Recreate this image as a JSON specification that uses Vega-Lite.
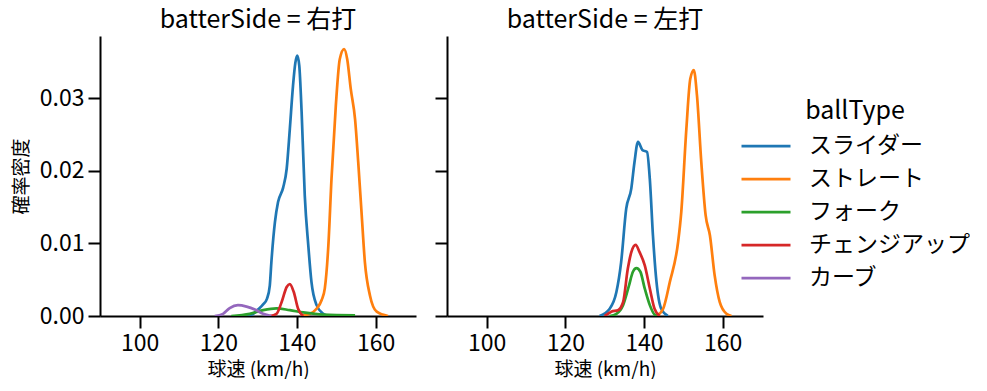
{
  "$schema": "https://vega.github.io/schema/vega-lite/v6.json",
  "autosize": {"type": "pad"},
  "padding": {"left": 12, "top": 8, "right": 0, "bottom": 0},
  "config": {
    "font": "Noto Sans CJK JP",
    "view": {"stroke": null},
    "axis": {"grid": false, "domainColor": "black", "domainWidth": 2, "tickColor": "black", "tickWidth": 2, "tickSize": 12, "labelFontSize": 23, "labelColor": "black", "titleFontSize": 19, "titleFontWeight": "normal", "titleColor": "black", "labelPadding": 4},
    "title": {"fontSize": 25, "fontWeight": "normal", "color": "black"}
  },
  "datasets": {
    "kde": [
      {"batterSide": "右打", "ballType": "スライダー", "speed": 127.2, "density": 0},
      {"batterSide": "右打", "ballType": "スライダー", "speed": 128.9, "density": 0.0003},
      {"batterSide": "右打", "ballType": "スライダー", "speed": 130.1, "density": 0.0009},
      {"batterSide": "右打", "ballType": "スライダー", "speed": 131.4, "density": 0.0016},
      {"batterSide": "右打", "ballType": "スライダー", "speed": 132.4, "density": 0.0024},
      {"batterSide": "右打", "ballType": "スライダー", "speed": 133.1, "density": 0.0042},
      {"batterSide": "右打", "ballType": "スライダー", "speed": 133.5, "density": 0.0074},
      {"batterSide": "右打", "ballType": "スライダー", "speed": 134.4, "density": 0.0129},
      {"batterSide": "右打", "ballType": "スライダー", "speed": 135.2, "density": 0.0157},
      {"batterSide": "右打", "ballType": "スライダー", "speed": 136.5, "density": 0.0177},
      {"batterSide": "右打", "ballType": "スライダー", "speed": 137.4, "density": 0.0203},
      {"batterSide": "右打", "ballType": "スライダー", "speed": 138.2, "density": 0.0258},
      {"batterSide": "右打", "ballType": "スライダー", "speed": 139.0, "density": 0.0317},
      {"batterSide": "右打", "ballType": "スライダー", "speed": 139.6, "density": 0.0349},
      {"batterSide": "右打", "ballType": "スライダー", "speed": 140.1, "density": 0.0359},
      {"batterSide": "右打", "ballType": "スライダー", "speed": 140.6, "density": 0.0345},
      {"batterSide": "右打", "ballType": "スライダー", "speed": 141.2, "density": 0.0281},
      {"batterSide": "右打", "ballType": "スライダー", "speed": 142.0, "density": 0.0166},
      {"batterSide": "右打", "ballType": "スライダー", "speed": 142.9, "density": 0.0097},
      {"batterSide": "右打", "ballType": "スライダー", "speed": 143.7, "density": 0.0047},
      {"batterSide": "右打", "ballType": "スライダー", "speed": 145.0, "density": 0.0015},
      {"batterSide": "右打", "ballType": "スライダー", "speed": 146.7, "density": 0.0003},
      {"batterSide": "右打", "ballType": "スライダー", "speed": 148.0, "density": 0},
      {"batterSide": "右打", "ballType": "ストレート", "speed": 141.6, "density": 0.0001},
      {"batterSide": "右打", "ballType": "ストレート", "speed": 143.3, "density": 0.0003},
      {"batterSide": "右打", "ballType": "ストレート", "speed": 145.0, "density": 0.001},
      {"batterSide": "右打", "ballType": "ストレート", "speed": 146.3, "density": 0.0022},
      {"batterSide": "右打", "ballType": "ストレート", "speed": 147.1, "density": 0.0038},
      {"batterSide": "右打", "ballType": "ストレート", "speed": 148.0, "density": 0.0097},
      {"batterSide": "右打", "ballType": "ストレート", "speed": 148.8, "density": 0.0189},
      {"batterSide": "右打", "ballType": "ストレート", "speed": 149.9, "density": 0.029},
      {"batterSide": "右打", "ballType": "ストレート", "speed": 150.9, "density": 0.0354},
      {"batterSide": "右打", "ballType": "ストレート", "speed": 152.0, "density": 0.0368},
      {"batterSide": "右打", "ballType": "ストレート", "speed": 152.8, "density": 0.0354},
      {"batterSide": "右打", "ballType": "ストレート", "speed": 153.7, "density": 0.0313},
      {"batterSide": "右打", "ballType": "ストレート", "speed": 154.8, "density": 0.0271},
      {"batterSide": "右打", "ballType": "ストレート", "speed": 155.6, "density": 0.0212},
      {"batterSide": "右打", "ballType": "ストレート", "speed": 156.5, "density": 0.0138},
      {"batterSide": "右打", "ballType": "ストレート", "speed": 157.3, "density": 0.0074},
      {"batterSide": "右打", "ballType": "ストレート", "speed": 158.6, "density": 0.0028},
      {"batterSide": "右打", "ballType": "ストレート", "speed": 160.3, "density": 0.0006},
      {"batterSide": "右打", "ballType": "ストレート", "speed": 163.2, "density": 0},
      {"batterSide": "右打", "ballType": "フォーク", "speed": 123.3, "density": 0},
      {"batterSide": "右打", "ballType": "フォーク", "speed": 128.0, "density": 0.0003},
      {"batterSide": "右打", "ballType": "フォーク", "speed": 131.4, "density": 0.0008},
      {"batterSide": "右打", "ballType": "フォーク", "speed": 134.8, "density": 0.00105},
      {"batterSide": "右打", "ballType": "フォーク", "speed": 138.2, "density": 0.0008},
      {"batterSide": "右打", "ballType": "フォーク", "speed": 141.6, "density": 0.0005},
      {"batterSide": "右打", "ballType": "フォーク", "speed": 146.7, "density": 0.0002},
      {"batterSide": "右打", "ballType": "フォーク", "speed": 154.8, "density": 0.0001},
      {"batterSide": "右打", "ballType": "チェンジアップ", "speed": 133.1, "density": 0},
      {"batterSide": "右打", "ballType": "チェンジアップ", "speed": 134.8, "density": 0.0003},
      {"batterSide": "右打", "ballType": "チェンジアップ", "speed": 136.1, "density": 0.0019},
      {"batterSide": "右打", "ballType": "チェンジアップ", "speed": 137.4, "density": 0.004},
      {"batterSide": "右打", "ballType": "チェンジアップ", "speed": 138.2, "density": 0.0044},
      {"batterSide": "右打", "ballType": "チェンジアップ", "speed": 139.2, "density": 0.0033},
      {"batterSide": "右打", "ballType": "チェンジアップ", "speed": 140.3, "density": 0.001},
      {"batterSide": "右打", "ballType": "チェンジアップ", "speed": 141.6, "density": 0},
      {"batterSide": "右打", "ballType": "カーブ", "speed": 119.1, "density": 0},
      {"batterSide": "右打", "ballType": "カーブ", "speed": 121.2, "density": 0.0003},
      {"batterSide": "右打", "ballType": "カーブ", "speed": 122.9, "density": 0.0011},
      {"batterSide": "右打", "ballType": "カーブ", "speed": 125.0, "density": 0.0015},
      {"batterSide": "右打", "ballType": "カーブ", "speed": 127.2, "density": 0.0013},
      {"batterSide": "右打", "ballType": "カーブ", "speed": 129.3, "density": 0.0009},
      {"batterSide": "右打", "ballType": "カーブ", "speed": 131.4, "density": 0.0003},
      {"batterSide": "右打", "ballType": "カーブ", "speed": 133.5, "density": 0},
      {"batterSide": "左打", "ballType": "スライダー", "speed": 128.7, "density": 0},
      {"batterSide": "左打", "ballType": "スライダー", "speed": 131.3, "density": 0.001},
      {"batterSide": "左打", "ballType": "スライダー", "speed": 133.0, "density": 0.0033},
      {"batterSide": "左打", "ballType": "スライダー", "speed": 134.2, "density": 0.0074},
      {"batterSide": "左打", "ballType": "スライダー", "speed": 135.5, "density": 0.0148},
      {"batterSide": "左打", "ballType": "スライダー", "speed": 136.8, "density": 0.0176},
      {"batterSide": "左打", "ballType": "スライダー", "speed": 137.6, "density": 0.0212},
      {"batterSide": "左打", "ballType": "スライダー", "speed": 138.5, "density": 0.024},
      {"batterSide": "左打", "ballType": "スライダー", "speed": 139.6, "density": 0.0229},
      {"batterSide": "左打", "ballType": "スライダー", "speed": 140.8, "density": 0.0226},
      {"batterSide": "左打", "ballType": "スライダー", "speed": 141.5, "density": 0.0189},
      {"batterSide": "左打", "ballType": "スライダー", "speed": 142.3, "density": 0.0111},
      {"batterSide": "左打", "ballType": "スライダー", "speed": 143.2, "density": 0.0047},
      {"batterSide": "左打", "ballType": "スライダー", "speed": 144.4, "density": 0.001},
      {"batterSide": "左打", "ballType": "スライダー", "speed": 146.1, "density": 0},
      {"batterSide": "左打", "ballType": "ストレート", "speed": 143.2, "density": 0},
      {"batterSide": "左打", "ballType": "ストレート", "speed": 144.9, "density": 0.001},
      {"batterSide": "左打", "ballType": "ストレート", "speed": 146.6, "density": 0.0047},
      {"batterSide": "左打", "ballType": "ストレート", "speed": 148.7, "density": 0.0102},
      {"batterSide": "左打", "ballType": "ストレート", "speed": 149.5, "density": 0.0143},
      {"batterSide": "左打", "ballType": "ストレート", "speed": 150.8, "density": 0.0258},
      {"batterSide": "左打", "ballType": "ストレート", "speed": 151.8, "density": 0.0327},
      {"batterSide": "左打", "ballType": "ストレート", "speed": 152.7, "density": 0.0339},
      {"batterSide": "左打", "ballType": "ストレート", "speed": 153.5, "density": 0.0304},
      {"batterSide": "左打", "ballType": "ストレート", "speed": 154.6, "density": 0.0212},
      {"batterSide": "左打", "ballType": "ストレート", "speed": 155.7, "density": 0.0139},
      {"batterSide": "左打", "ballType": "ストレート", "speed": 156.8, "density": 0.0111},
      {"batterSide": "左打", "ballType": "ストレート", "speed": 158.0, "density": 0.0056},
      {"batterSide": "左打", "ballType": "ストレート", "speed": 159.3, "density": 0.0019},
      {"batterSide": "左打", "ballType": "ストレート", "speed": 161.0, "density": 0.0003},
      {"batterSide": "左打", "ballType": "ストレート", "speed": 162.3, "density": 0},
      {"batterSide": "左打", "ballType": "フォーク", "speed": 131.3, "density": 0},
      {"batterSide": "左打", "ballType": "フォーク", "speed": 133.0, "density": 0.0003},
      {"batterSide": "左打", "ballType": "フォーク", "speed": 134.7, "density": 0.0015},
      {"batterSide": "左打", "ballType": "フォーク", "speed": 136.2, "density": 0.0042},
      {"batterSide": "左打", "ballType": "フォーク", "speed": 137.2, "density": 0.0061},
      {"batterSide": "左打", "ballType": "フォーク", "speed": 138.1, "density": 0.0066},
      {"batterSide": "左打", "ballType": "フォーク", "speed": 139.1, "density": 0.0061},
      {"batterSide": "左打", "ballType": "フォーク", "speed": 140.2, "density": 0.0038},
      {"batterSide": "左打", "ballType": "フォーク", "speed": 141.5, "density": 0.0015},
      {"batterSide": "左打", "ballType": "フォーク", "speed": 142.7, "density": 0.0002},
      {"batterSide": "左打", "ballType": "フォーク", "speed": 143.6, "density": 0},
      {"batterSide": "左打", "ballType": "チェンジアップ", "speed": 130.0, "density": 0},
      {"batterSide": "左打", "ballType": "チェンジアップ", "speed": 131.7, "density": 0.0006},
      {"batterSide": "左打", "ballType": "チェンジアップ", "speed": 133.4, "density": 0.0008},
      {"batterSide": "左打", "ballType": "チェンジアップ", "speed": 134.7, "density": 0.0019},
      {"batterSide": "左打", "ballType": "チェンジアップ", "speed": 135.9, "density": 0.0065},
      {"batterSide": "左打", "ballType": "チェンジアップ", "speed": 136.8, "density": 0.0088},
      {"batterSide": "左打", "ballType": "チェンジアップ", "speed": 137.9, "density": 0.0098},
      {"batterSide": "左打", "ballType": "チェンジアップ", "speed": 138.9, "density": 0.0088},
      {"batterSide": "左打", "ballType": "チェンジアップ", "speed": 140.2, "density": 0.007},
      {"batterSide": "左打", "ballType": "チェンジアップ", "speed": 141.5, "density": 0.0038},
      {"batterSide": "左打", "ballType": "チェンジアップ", "speed": 142.7, "density": 0.001},
      {"batterSide": "左打", "ballType": "チェンジアップ", "speed": 144.0, "density": 0}
    ]
  },
  "spacing": 18,
  "hconcat": [
    {
      "title": {"text": "batterSide = 右打", "offset": 3},
      "width": 316,
      "height": 280,
      "data": {"name": "kde"},
      "transform": [{"filter": "datum.batterSide === '右打'"}],
      "mark": {"type": "line", "strokeWidth": 2.7, "interpolate": "monotone", "clip": true},
      "encoding": {
        "x": {"field": "speed", "type": "quantitative", "scale": {"domain": [89.9, 170.3], "nice": false, "zero": false}, "axis": {"values": [100, 120, 140, 160], "title": "球速 (km/h)", "titlePadding": 5}},
        "y": {"field": "density", "type": "quantitative", "scale": {"domain": [0, 0.0386], "nice": false}, "axis": {"values": [0, 0.01, 0.02, 0.03], "format": ".2f", "title": "確率密度", "titlePadding": 8}},
        "color": {
          "field": "ballType", "type": "nominal",
          "scale": {"domain": ["スライダー", "ストレート", "フォーク", "チェンジアップ", "カーブ"], "range": ["#1f77b4", "#ff7f0e", "#2ca02c", "#d62728", "#9467bd"]},
          "legend": {"orient": "none", "legendX": 640, "legendY": 63, "title": "ballType", "titleFontSize": 25, "titleFontWeight": "normal", "titleColor": "black", "titleAnchor": "middle", "titlePadding": 6, "labelFontSize": 23, "labelColor": "black", "labelLimit": 400, "symbolType": "stroke", "symbolSize": 2401, "symbolStrokeWidth": 2.7, "labelOffset": 17, "rowPadding": 0, "clipHeight": 32.4}
        }
      }
    },
    {
      "title": {"text": "batterSide = 左打", "offset": 3},
      "width": 316,
      "height": 280,
      "data": {"name": "kde"},
      "transform": [{"filter": "datum.batterSide === '左打'"}],
      "mark": {"type": "line", "strokeWidth": 2.7, "interpolate": "monotone", "clip": true},
      "encoding": {
        "x": {"field": "speed", "type": "quantitative", "scale": {"domain": [89.9, 170.3], "nice": false, "zero": false}, "axis": {"values": [100, 120, 140, 160], "title": "球速 (km/h)", "titlePadding": 5}},
        "y": {"field": "density", "type": "quantitative", "scale": {"domain": [0, 0.0386], "nice": false}, "axis": {"values": [0, 0.01, 0.02, 0.03], "labels": false, "title": null}},
        "color": {"field": "ballType", "type": "nominal", "scale": {"domain": ["スライダー", "ストレート", "フォーク", "チェンジアップ", "カーブ"], "range": ["#1f77b4", "#ff7f0e", "#2ca02c", "#d62728", "#9467bd"]}}
      }
    }
  ]
}
